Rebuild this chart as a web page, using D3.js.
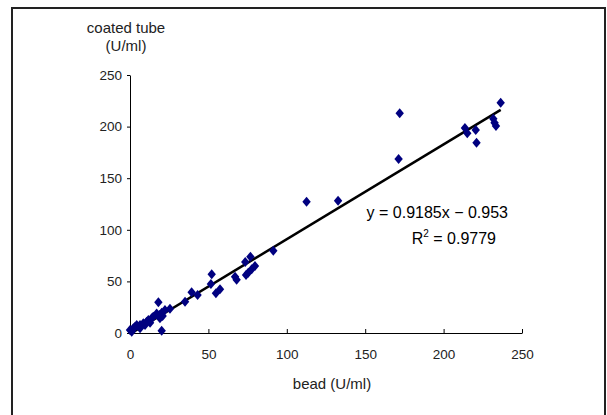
<!DOCTYPE html>
<html><head><meta charset="utf-8">
<script src="https://cdn.jsdelivr.net/npm/d3@7"></script>
<style>body{margin:0;background:#fff}svg{display:block}text{font-family:"Liberation Sans",Arial,sans-serif}</style>
</head><body><div id="chart"></div>
<script>
const beadValues = [0,1.1,2.1,3.2,4.3,6.4,6.4,8.5,9.6,10.6,11.7,12.8,13.8,14.8,17,18.7,19.1,20.2,20.8,22.3,25.5,18.1,20.2,35.1,39.3,43.1,52.1,51.6,54.8,57.4,67,68,73.5,74,75.4,77.6,79.7,76.8,91.4,112.6,132.7,171.3,172,213.6,215.1,220.5,221,231.7,232.5,233.4,236.4];
const tubeValues = [2.9,1.3,4.6,6.1,7.8,7.8,4.6,9.4,7.8,11,12.6,10,14.2,15.8,19,17.4,14.2,19.7,16.5,22.3,23.5,29.7,2.3,30.3,39.4,36.8,56.9,47.5,38.5,42.3,54.6,51.5,68.8,56.2,58.4,61.7,64.9,73.9,79.7,127.2,128.2,168.6,212.9,198.6,193.5,196.7,184.4,207.6,203.7,200.5,223.2];
const xTicks = [0,50,100,150,200,250];
const yTicks = [0,50,100,150,200,250];
const slope = 0.9185, intercept = -0.953;
const eqText = "y = 0.9185x \u2212 0.953";
const r2Text = "0.9779";

const W = 607, H = 415;
const svg = d3.select("#chart").append("svg").attr("width", W).attr("height", H);
svg.append("rect").attr("x", 12).attr("y", 8).attr("width", 593).attr("height", 420)
  .attr("fill", "#fff").attr("stroke", "#222").attr("stroke-width", 2);

const x = d3.scaleLinear().domain([0, 250]).range([130, 522]);
const y = d3.scaleLinear().domain([0, 250]).range([333, 75]);

const xAxis = d3.axisBottom(x).tickValues(xTicks).tickSizeInner(-4).tickSizeOuter(0).tickPadding(16);
const yAxis = d3.axisLeft(y).tickValues(yTicks).tickSizeInner(3).tickSizeOuter(0).tickPadding(5);

const gx = svg.append("g").attr("transform", "translate(0,333)").call(xAxis);
const gy = svg.append("g").attr("transform", "translate(130,0)").call(yAxis);
[gx, gy].forEach(g => {
  g.select(".domain").attr("stroke", "#000").attr("stroke-width", 1);
  g.selectAll(".tick line").attr("stroke", "#000");
  g.selectAll(".tick text").attr("fill", "#222").style("font-size", "13.5px").style("font-family", "'Liberation Sans', Arial, sans-serif");
});

// regression line
const xs = d3.extent(beadValues);
svg.append("line")
  .attr("x1", x(xs[0])).attr("y1", y(slope * xs[0] + intercept))
  .attr("x2", x(xs[1])).attr("y2", y(slope * xs[1] + intercept))
  .attr("stroke", "#000").attr("stroke-width", 2.5);

// points
const pts = beadValues.map((b, i) => [b, tubeValues[i]]);
svg.append("g").selectAll("path").data(pts).join("path")
  .attr("d", d => {
    const cx = x(d[0]), cy = y(d[1]);
    return `M${cx},${cy-5}L${cx+4.2},${cy}L${cx},${cy+5}L${cx-4.2},${cy}Z`;
  })
  .attr("fill", "#000080");

// labels
svg.append("text").attr("x", 126).attr("y", 33).attr("text-anchor", "middle")
  .attr("fill", "#222").style("font-size", "15px").text("coated tube");
svg.append("text").attr("x", 126).attr("y", 51).attr("text-anchor", "middle")
  .attr("fill", "#222").style("font-size", "15px").text("(U/ml)");
svg.append("text").attr("x", 332).attr("y", 389).attr("text-anchor", "middle")
  .attr("fill", "#222").style("font-size", "15px").text("bead (U/ml)");

// equation
svg.append("text").attr("x", 508).attr("y", 218).attr("text-anchor", "end")
  .attr("fill", "#000").style("font-size", "16px").text(eqText);
const r2 = svg.append("text").attr("x", 496).attr("y", 244).attr("text-anchor", "end")
  .attr("fill", "#000").style("font-size", "16px");
r2.append("tspan").text("R");
r2.append("tspan").attr("dy", -7).style("font-size", "10px").text("2");
r2.append("tspan").attr("dy", 7).text(" = " + r2Text);
</script></body></html>
